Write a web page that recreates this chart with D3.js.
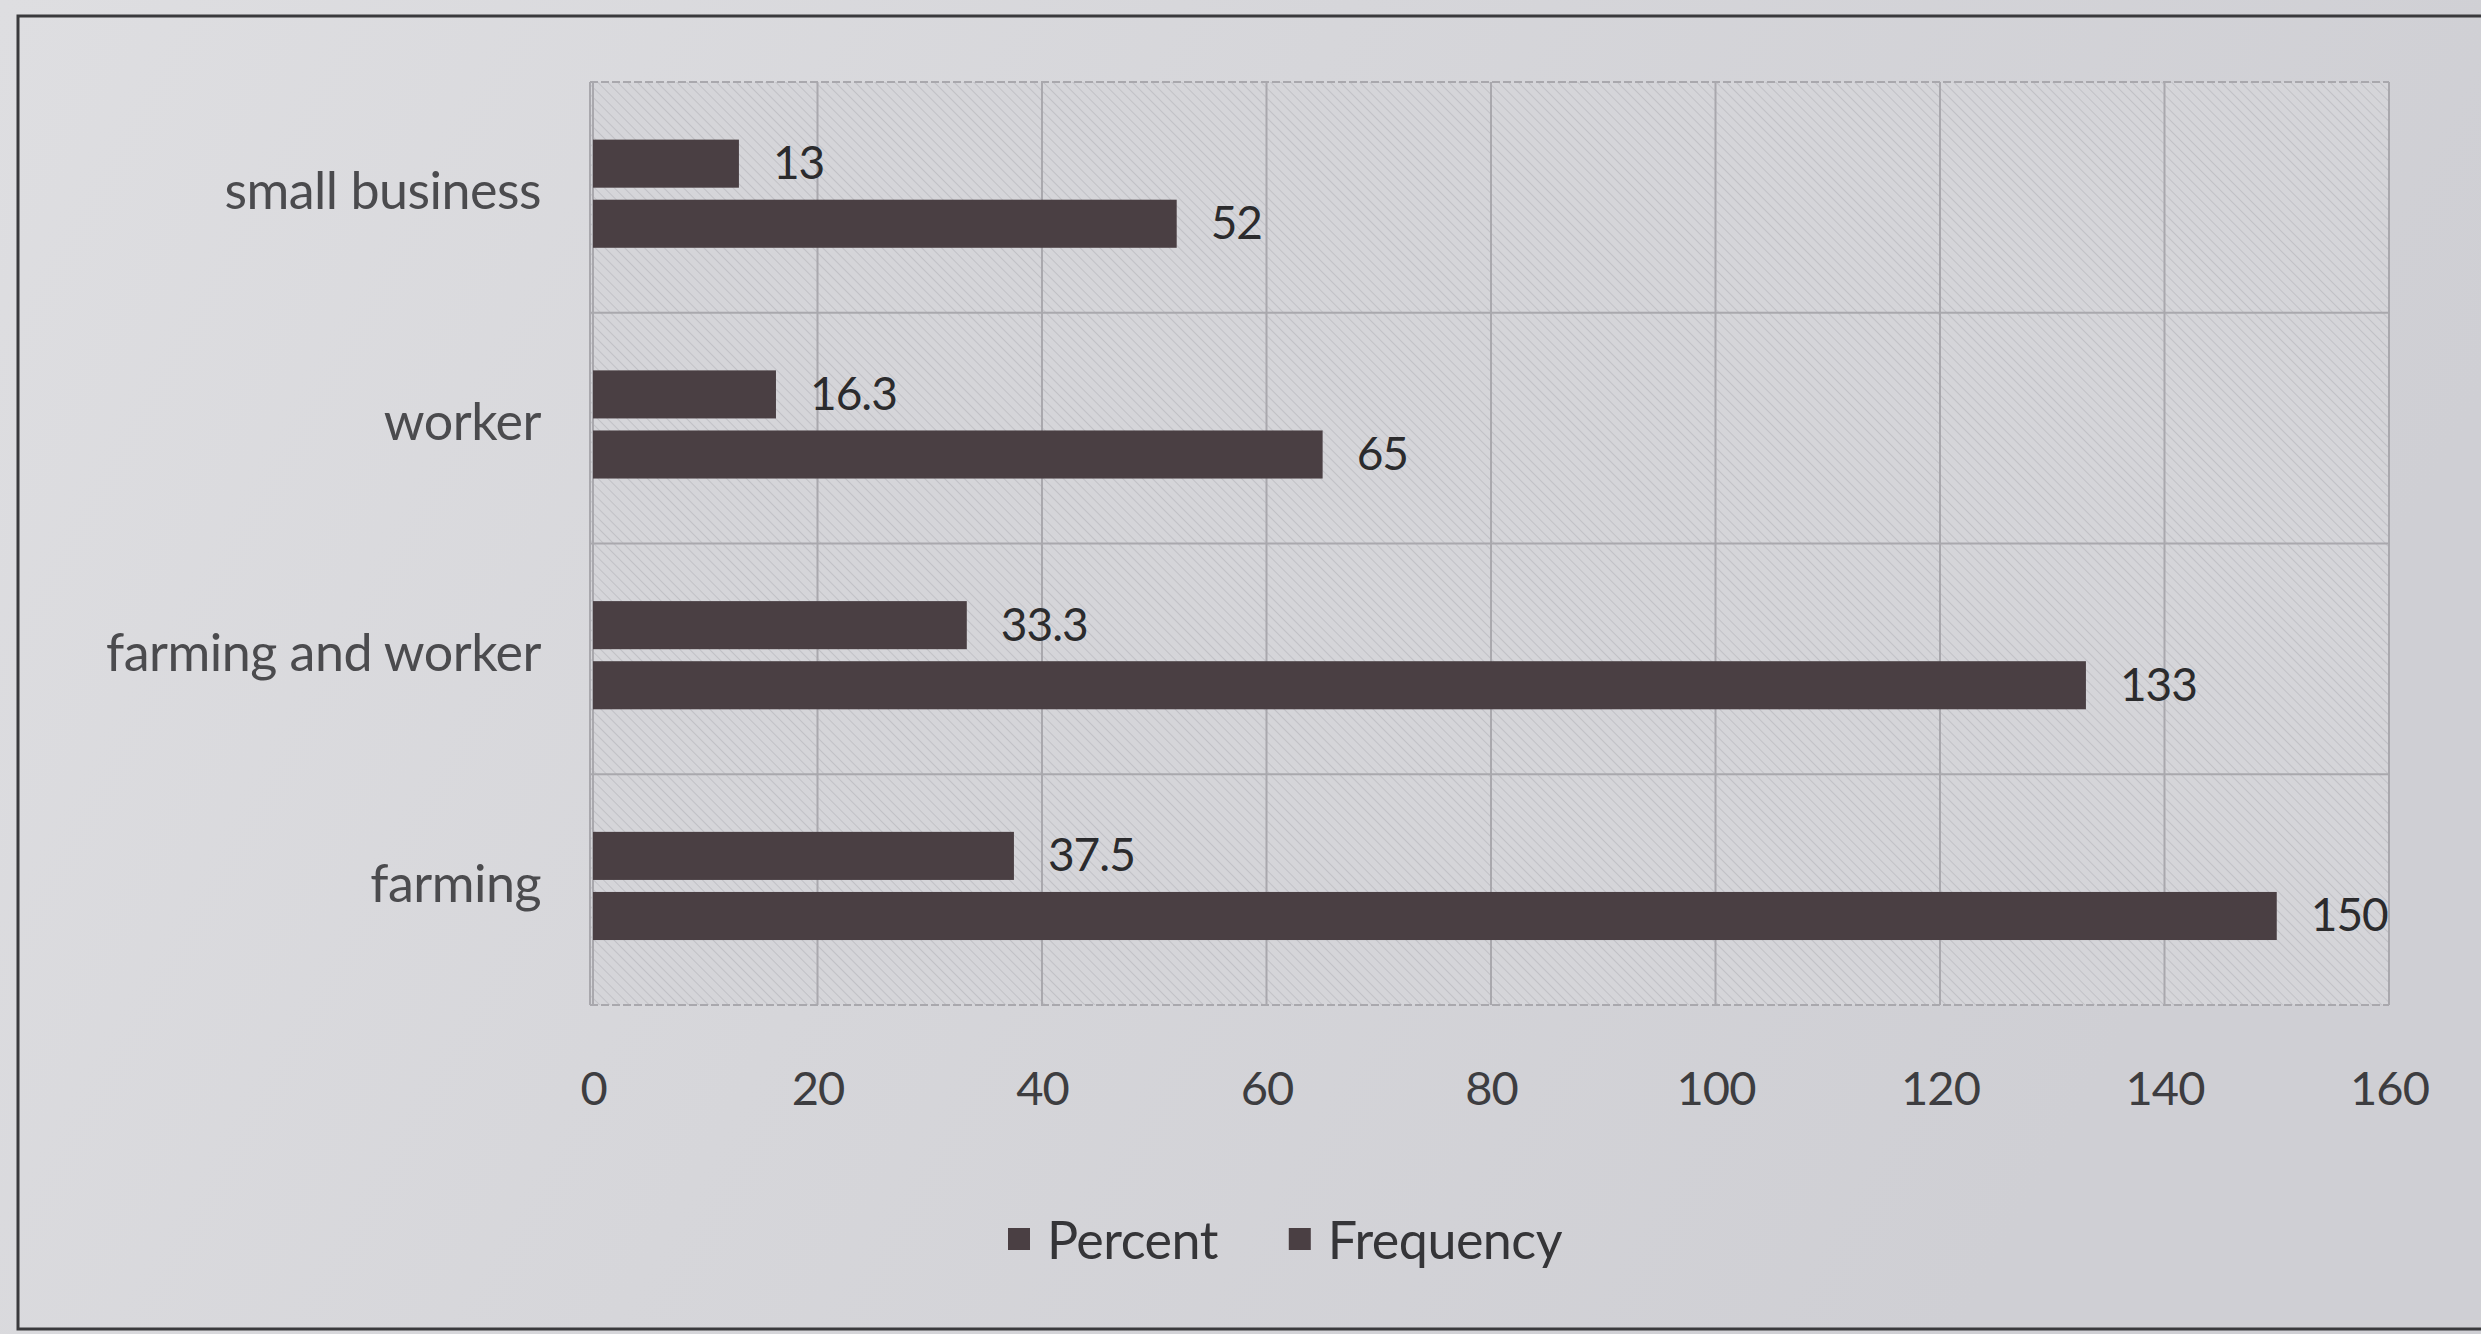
<!DOCTYPE html>
<html>
<head>
<meta charset="utf-8">
<script src="https://cdn.jsdelivr.net/npm/d3@7"></script>
<style>
  html, body { margin: 0; padding: 0; background: #d6d6da; }
  svg { display: block; }
  text { font-family: Lato, "Open Sans", "Liberation Sans", sans-serif; }
</style>
</head>
<body>
<svg id="chart" width="2481" height="1334"></svg>
<script>
// Occupation of respondents: frequency and percent per category
const categories = ["small business", "worker", "farming and worker", "farming"];
const seriesNames = ["Percent", "Frequency"];
const percentValues = [13, 16.3, 33.3, 37.5];
const frequencyValues = [52, 65, 133, 150];
const xTicks = [0, 20, 40, 60, 80, 100, 120, 140, 160];

const W = 2481, H = 1334;
const plot = { left: 590, right: 2389, top: 82, bottom: 1005 };
const barColor = "#4a3f43";

const svg = d3.select("#chart");
const defs = svg.append("defs");

// soft page background, lighter toward the left
const bg = defs.append("linearGradient").attr("id", "pageGrad")
  .attr("x1", "0").attr("y1", "0").attr("x2", "1").attr("y2", "0.3");
bg.append("stop").attr("offset", "0").attr("stop-color", "#dedee1");
bg.append("stop").attr("offset", "0.5").attr("stop-color", "#d6d6da");
bg.append("stop").attr("offset", "1").attr("stop-color", "#cfcfd4");

// diagonal hatch fill of the plot area
const hatch = defs.append("pattern").attr("id", "hatch")
  .attr("patternUnits", "userSpaceOnUse")
  .attr("width", 7).attr("height", 7)
  .attr("patternTransform", "rotate(-45)");
hatch.append("rect").attr("width", 7).attr("height", 7).attr("fill", "#d5d5d9");
hatch.append("line").attr("x1", 0).attr("y1", 0).attr("x2", 0).attr("y2", 7)
  .attr("stroke", "#c1c1c6").attr("stroke-width", 2);

svg.append("rect").attr("width", W).attr("height", H).attr("fill", "url(#pageGrad)");

// chart frame
svg.append("rect")
  .attr("x", 18).attr("y", 16).attr("width", W + 40).attr("height", 1313)
  .attr("fill", "none").attr("stroke", "#3a3a3d").attr("stroke-width", 3);

// scales
const x = d3.scaleLinear().domain([0, 160]).range([plot.left + 3, plot.right]);
const y = d3.scaleBand().domain(categories).range([plot.top, plot.bottom]);
const ySub = d3.scaleBand().domain(seriesNames).range([0, y.bandwidth()])
  .paddingInner(0.2).paddingOuter(1.02).align(0.47);

// plot area
svg.append("rect")
  .attr("x", plot.left).attr("y", plot.top)
  .attr("width", plot.right - plot.left).attr("height", plot.bottom - plot.top)
  .attr("fill", "url(#hatch)");

// gridlines
const grid = svg.append("g").attr("stroke", "#a9a8ad").attr("stroke-width", 2).attr("fill", "none");
grid.selectAll("line.v").data(xTicks).join("line")
  .attr("class", "v")
  .attr("x1", d => x(d)).attr("x2", d => x(d))
  .attr("y1", plot.top).attr("y2", plot.bottom);
const bandEdges = categories.map(c => y(c)).concat([plot.bottom]);
grid.selectAll("line.h").data(bandEdges).join("line")
  .attr("class", "h")
  .attr("x1", plot.left).attr("x2", plot.right)
  .attr("y1", d => d).attr("y2", d => d)
  .attr("stroke-dasharray", (d, i) => (i === 0 || i === bandEdges.length - 1) ? "8 3" : null);
grid.append("line")
  .attr("x1", plot.left).attr("x2", plot.left)
  .attr("y1", plot.top).attr("y2", plot.bottom);

// bars
const rows = categories.map((c, i) => ({
  category: c,
  values: [
    { series: "Percent", value: percentValues[i] },
    { series: "Frequency", value: frequencyValues[i] }
  ]
}));

const groups = svg.append("g").selectAll("g").data(rows).join("g")
  .attr("transform", d => `translate(0,${y(d.category)})`);

groups.selectAll("rect").data(d => d.values).join("rect")
  .attr("x", x(0))
  .attr("y", d => ySub(d.series))
  .attr("width", d => x(d.value) - x(0))
  .attr("height", ySub.bandwidth())
  .attr("fill", barColor);

// value labels
groups.selectAll("text").data(d => d.values).join("text")
  .attr("x", d => x(d.value) + 34)
  .attr("y", d => ySub(d.series) + ySub.bandwidth() / 2 - 2)
  .attr("dominant-baseline", "central")
  .attr("font-size", 46)
  .attr("letter-spacing", -1)
  .attr("fill", "#2b2b2d")
  .text(d => d.value);

// category labels
svg.append("g").selectAll("text").data(categories).join("text")
  .attr("x", 541)
  .attr("y", d => y(d) + y.bandwidth() / 2 - 8)
  .attr("text-anchor", "end")
  .attr("dominant-baseline", "central")
  .attr("font-size", 52)
  .attr("letter-spacing", -0.5)
  .attr("fill", "#4b4b4e")
  .text(d => d);

// x axis
const xAxis = svg.append("g")
  .attr("transform", `translate(0,${plot.bottom})`)
  .call(d3.axisBottom(x).tickValues(xTicks).tickSize(0).tickPadding(0).tickFormat(d3.format("d")));
xAxis.select(".domain").remove();
xAxis.selectAll("text")
  .attr("y", 84).attr("dy", "0.35em")
  .attr("font-size", 47)
  .attr("letter-spacing", -1)
  .attr("fill", "#3d3d40")
  .style("font-family", "Lato, 'Open Sans', sans-serif");

// legend
const legend = svg.append("g").attr("transform", "translate(1008,1239)");
let lx = 0;
seriesNames.forEach(name => {
  const item = legend.append("g").attr("transform", `translate(${lx},0)`);
  item.append("rect").attr("x", 0).attr("y", -11).attr("width", 22).attr("height", 22).attr("fill", barColor);
  const t = item.append("text").attr("x", 39).attr("y", 0)
    .attr("dominant-baseline", "central")
    .attr("font-size", 52)
    .attr("letter-spacing", -0.5)
    .attr("fill", "#353538")
    .text(name);
  lx += 39 + t.node().getComputedTextLength() + 71;
});
</script>
</body>
</html>
